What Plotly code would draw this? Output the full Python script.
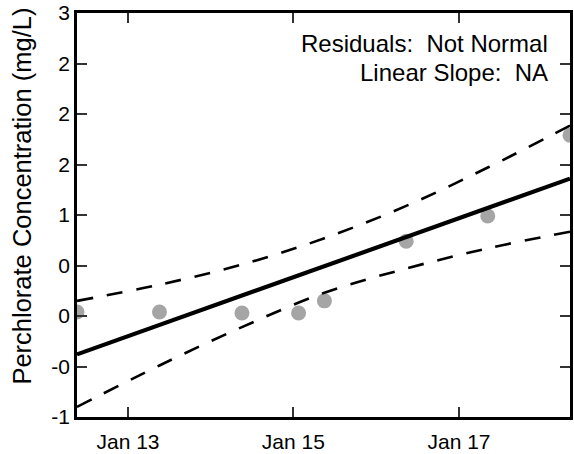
import plotly.graph_objects as go

# Observations
obs_dates = ["2012-05-21", "2013-05-20", "2014-05-19", "2015-01-24", "2015-05-18",
             "2016-05-13", "2017-05-08", "2018-05-06"]
obs_values = [0.04, 0.04, 0.03, 0.03, 0.15, 0.74, 0.99, 1.79]

# Trend line and confidence band
trend_dates = ["2012-05-21", "2018-05-06"]
trend_values = [-0.38, 1.36]

band_dates = ["2012-05-21", "2013-05-20", "2014-05-19", "2015-05-18",
              "2016-05-13", "2017-05-08", "2018-05-06"]
band_upper = [0.15, 0.31, 0.51, 0.77, 1.09, 1.47, 1.885]
band_lower = [-0.90, -0.49, -0.11, 0.23, 0.47, 0.67, 0.835]

y_tickvals = [-1, -0.5, 0, 0.5, 1, 1.5, 2, 2.5, 3]
y_ticktext = ["-1", "-0", "0", "0", "1", "2", "2", "2", "3"]
x_tickvals = ["2013-01-01", "2015-01-01", "2017-01-01"]
x_ticktext = ["Jan 13", "Jan 15", "Jan 17"]

y_title = "Perchlorate Concentration (mg/L)"
annotation_lines = ["Residuals:  Not Normal", "Linear Slope:  NA"]

FONT = "Liberation Sans, Arial, sans-serif"
W, H = 574, 454
L, R, T, B = 77, 1, 11, 33
PW, PH = W - L - R, H - T - B

fig = go.Figure()
fig.add_trace(go.Scatter(
    x=obs_dates, y=obs_values, mode="markers",
    marker=dict(size=15, color="#a5a5a5", line=dict(width=0)),
    showlegend=False, hoverinfo="skip"))
fig.add_trace(go.Scatter(
    x=band_dates, y=band_upper, mode="lines",
    line=dict(color="black", width=2.6, dash="16px,14px", shape="spline"),
    showlegend=False))
fig.add_trace(go.Scatter(
    x=band_dates, y=band_lower, mode="lines",
    line=dict(color="black", width=2.6, dash="16px,14px", shape="spline"),
    showlegend=False))
fig.add_trace(go.Scatter(
    x=trend_dates, y=trend_values, mode="lines",
    line=dict(color="black", width=4.2),
    showlegend=False))

fig.update_layout(
    width=W, height=H,
    margin=dict(l=L, r=R, t=T, b=B, pad=0),
    paper_bgcolor="white", plot_bgcolor="white",
    font=dict(family=FONT, size=21, color="black"),
    xaxis=dict(
        type="date", range=["2012-05-21", "2018-05-06"],
        tickvals=x_tickvals, ticktext=x_ticktext,
        ticks="inside", ticklen=10, tickwidth=1.5, tickcolor="#333",
        showline=True, linecolor="black", linewidth=2.6, mirror="ticks",
        showgrid=False, zeroline=False,
        tickfont=dict(size=21), ticklabelstandoff=4, ticklabeloverflow="allow",
    ),
    yaxis=dict(
        range=[-1, 3],
        tickvals=y_tickvals, ticktext=y_ticktext,
        ticks="inside", ticklen=10, tickwidth=1.5, tickcolor="#333",
        showline=True, linecolor="black", linewidth=2.6, mirror="ticks",
        showgrid=False, zeroline=False,
        tickfont=dict(size=21), ticklabeloverflow="allow",
    ),
    annotations=[
        dict(text=annotation_lines[0], xref="paper", yref="paper",
             x=(553 - L) / PW, y=(H - B - 42) / PH,
             xanchor="right", yanchor="middle", showarrow=False, font=dict(size=24)),
        dict(text=annotation_lines[1], xref="paper", yref="paper",
             x=(553 - L) / PW, y=(H - B - 71) / PH,
             xanchor="right", yanchor="middle", showarrow=False, font=dict(size=24)),
        dict(text=y_title, xref="paper", yref="paper",
             x=(22 - L) / PW, y=(H - B - 197) / PH, textangle=-90,
             xanchor="center", yanchor="middle", showarrow=False, font=dict(size=25.5)),
    ],
)

fig.write_html("out.html", config={"displayModeBar": False},
               post_script="document.body.style.margin='0';document.body.style.overflow='hidden';")
